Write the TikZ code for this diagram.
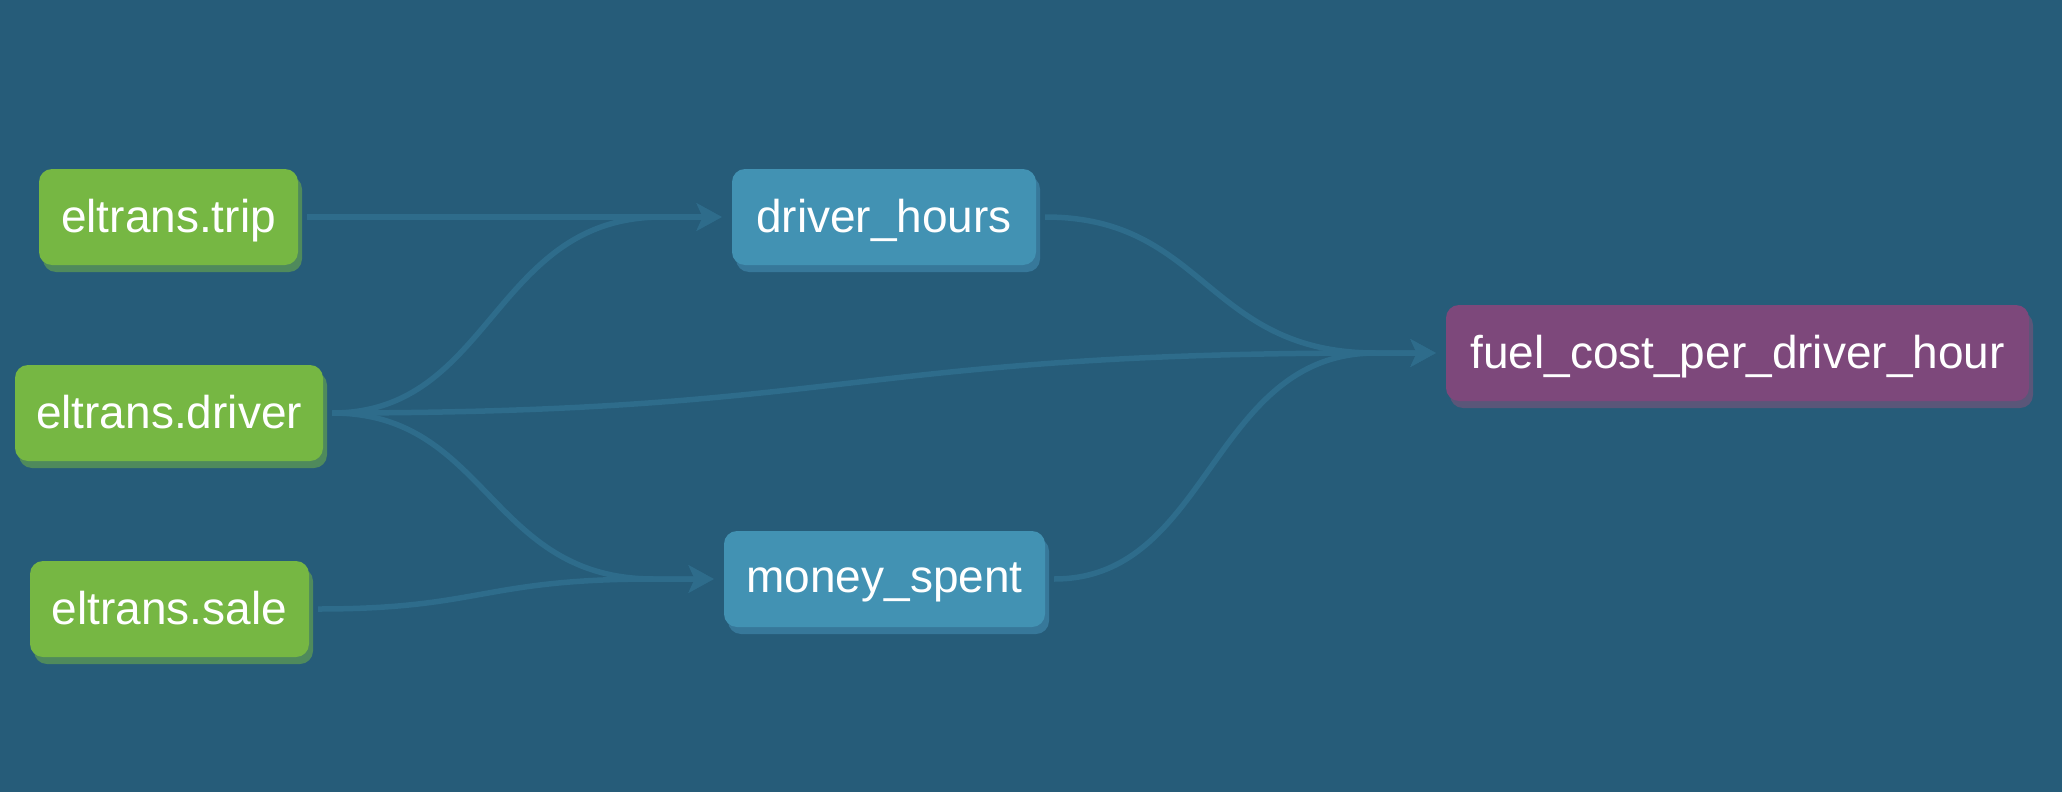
\documentclass[tikz,border=0pt]{standalone}
\usepackage{fontspec}
\setmainfont{Liberation Sans}
\usetikzlibrary{arrows.meta,shadows,calc}

\definecolor{bgblue}{HTML}{265C79}
\definecolor{edgeblue}{HTML}{2E6C8B}
\definecolor{srcgreen}{HTML}{76B743}
\definecolor{srcshade}{HTML}{4F8A5C}
\definecolor{modblue}{HTML}{4292B3}
\definecolor{modshade}{HTML}{37789A}
\definecolor{expurple}{HTML}{7D487B}
\definecolor{exshade}{HTML}{5A5679}

\tikzset{
  model/.style={rounded corners=13pt,minimum height=96pt,inner xsep=0pt,
    text=white,font=\fontsize{46}{54}\selectfont,text depth=2pt},
  source/.style={model,fill=srcgreen,
    general shadow={fill=srcshade,shadow xshift=4pt,shadow yshift=-7pt}},
  stage/.style={model,fill=modblue,
    general shadow={fill=modshade,shadow xshift=4pt,shadow yshift=-7pt}},
  exposure/.style={model,fill=expurple,
    general shadow={fill=exshade,shadow xshift=4pt,shadow yshift=-7pt}},
  flow/.style={to path={let \p1=(\tikztostart), \p2=(\tikztotarget) in
    .. controls ({(\x1+\x2-70pt)/2},\y1) and ({(\x1+\x2-70pt)/2},\y2) .. ({\x2-70pt},\y2)
    -- (\p2) \tikztonodes}},
  edge/.style={draw=edgeblue,line width=5.5pt,
    -{Stealth[length=25pt,width=27pt,inset=6pt]},shorten <=9pt,shorten >=10pt},
}

\begin{document}
\begin{tikzpicture}[x=1pt,y=-1pt]
  \fill[bgblue] (0,0) rectangle (2062,792);
  \useasboundingbox (0,0) rectangle (2062,792);
  % sources
  \node[source,minimum width=259pt] (trip) at (168.5,217) {eltrans.trip};
  \node[source,minimum width=308pt] (drv) at (169,413) {eltrans.driver};
  \node[source,minimum width=279pt] (sale) at (169.5,609) {eltrans.sale};
  % models
  \node[stage,minimum width=304pt] (hours) at (884,217) {driver\_hours};
  \node[stage,minimum width=321pt] (spent) at (884.5,579) {money\_spent};
  \node[exposure,minimum width=583pt] (fuel) at (1737.5,353) {fuel\_cost\_per\_driver\_hour};
  % lineage
  \draw[edge] (trip.east) to[flow] (hours.west);
  \draw[edge] (drv.east) to[flow] (hours.west);
  \draw[edge] (drv.east) to[flow] (fuel.west);
  \draw[edge] (drv.east) to[flow] (spent.west);
  \draw[edge] (sale.east) to[flow] (spent.west);
  \draw[edge] (hours.east) to[flow] (fuel.west);
  \draw[edge] (spent.east) to[flow] (fuel.west);
\end{tikzpicture}
\end{document}
